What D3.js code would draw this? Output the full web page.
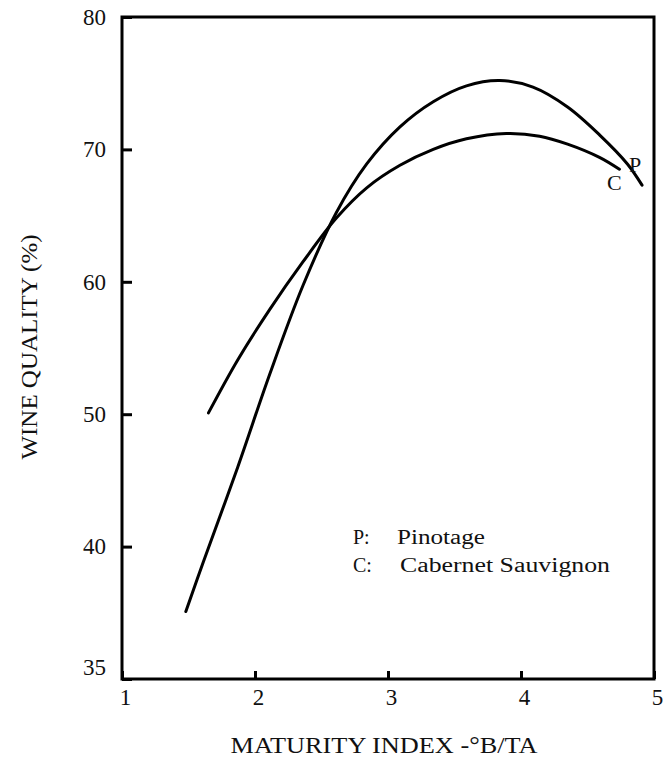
<!DOCTYPE html>
<html>
<head>
<meta charset="utf-8">
<script src="https://cdn.jsdelivr.net/npm/d3@7"></script>
<style>
  body { margin: 0; background: #fff; }
  svg { display: block; font-family: 'Liberation Serif', 'DejaVu Serif', serif; }
</style>
</head>
<body>
<svg id="chart" width="668" height="758"></svg>
<script>
// curves
const pinotageX = [1.48, 1.61, 1.87, 2.11, 2.36, 2.61, 2.84, 3.09, 3.34, 3.59, 3.84, 4.09, 4.35, 4.59, 4.80, 4.91];
const pinotageY = [35.1, 38.8, 46.0, 53.0, 59.7, 65.2, 68.9, 71.7, 73.6, 74.8, 75.2, 74.7, 73.2, 71.1, 68.9, 67.3];

const cabernetX = [1.65, 1.87, 2.11, 2.36, 2.61, 2.84, 3.09, 3.34, 3.59, 3.89, 4.14, 4.35, 4.59, 4.74];
const cabernetY = [50.1, 54.1, 57.9, 61.5, 64.8, 67.1, 68.8, 70.0, 70.8, 71.2, 71.0, 70.4, 69.4, 68.5];

const xTicks = [1, 2, 3, 4, 5];
const yTicks = [30, 40, 50, 60, 70, 80];
// the bottom of the printed axis carries the label 35
const yTickLabels = ['35', '40', '50', '60', '70', '80'];

const legendKeys = ['P:', 'C:'];
const legendNames = ['Pinotage', 'Cabernet Sauvignon'];
const curveLetters = ['P', 'C'];

const svg = d3.select('#chart');
const serif = '"Liberation Serif", "DejaVu Serif", serif';

const margin = { top: 17, right: 14, bottom: 79, left: 122 };
const width = +svg.attr('width') - margin.left - margin.right;
const height = +svg.attr('height') - margin.top - margin.bottom;

const x = d3.scaleLinear().domain([1, 5]).range([margin.left, margin.left + width]);
const y = d3.scaleLinear().domain([30, 80]).range([margin.top + height, margin.top]);

// axes, ticks pointing inward
const xAxis = d3.axisBottom(x).tickValues(xTicks).tickSize(-8).tickPadding(10).tickFormat(d3.format('d'));
const yAxis = d3.axisLeft(y).tickValues(yTicks).tickSize(-10).tickPadding(16)
  .tickFormat((d, i) => yTickLabels[i]);

const gx = svg.append('g')
  .attr('transform', `translate(0, ${margin.top + height})`)
  .call(xAxis);
const gy = svg.append('g')
  .attr('transform', `translate(${margin.left}, 0)`)
  .call(yAxis);

[gx, gy].forEach((g) => {
  g.attr('font-family', null).attr('font-size', null);
  g.select('.domain').remove();
  g.selectAll('.tick line').attr('stroke', '#000').attr('stroke-width', 3);
  g.selectAll('.tick text')
    .attr('fill', '#111')
    .style('font-family', serif)
    .style('font-size', '23px');
});
gx.selectAll('.tick text').attr('dx', 3);
gy.selectAll('.tick text').filter((d) => d === 30).attr('dy', '-0.2em');

// frame
svg.append('rect')
  .attr('x', margin.left)
  .attr('y', margin.top)
  .attr('width', width)
  .attr('height', height)
  .attr('fill', 'none')
  .attr('stroke', '#000')
  .attr('stroke-width', 3);

const line = d3.line()
  .x((d) => x(d[0]))
  .y((d) => y(d[1]))
  .curve(d3.curveCatmullRom.alpha(0.5));

const series = [
  d3.zip(pinotageX, pinotageY),
  d3.zip(cabernetX, cabernetY),
];

svg.selectAll('.curve')
  .data(series)
  .enter()
  .append('path')
  .attr('class', 'curve')
  .attr('d', line)
  .attr('fill', 'none')
  .attr('stroke', '#000')
  .attr('stroke-width', 3)
  .attr('stroke-linecap', 'round');

// letters at the right ends of the curves
const letterOffsets = [[-7, -13], [-5, 21]];
svg.selectAll('.curve-label')
  .data(series)
  .enter()
  .append('text')
  .attr('class', 'curve-label')
  .attr('x', (d, i) => x(d[d.length - 1][0]) + letterOffsets[i][0])
  .attr('y', (d, i) => y(d[d.length - 1][1]) + letterOffsets[i][1])
  .attr('text-anchor', 'middle')
  .attr('fill', '#111')
  .style('font-size', '22px')
  .text((d, i) => curveLetters[i]);

// legend
const legend = svg.append('g').style('font-size', '20px').attr('fill', '#111');
const nameLengths = [88, 210];
const nameStarts = [397, 400];
legendKeys.forEach((k, i) => {
  legend.append('text').attr('x', 353).attr('y', 544 + i * 28).text(k);
  legend.append('text')
    .attr('x', nameStarts[i])
    .attr('y', 544 + i * 28)
    .attr('textLength', nameLengths[i])
    .attr('lengthAdjust', 'spacingAndGlyphs')
    .text(legendNames[i]);
});

// axis titles
svg.append('text')
  .attr('x', 384)
  .attr('y', 753)
  .attr('text-anchor', 'middle')
  .attr('fill', '#111')
  .attr('textLength', 307)
  .attr('lengthAdjust', 'spacingAndGlyphs')
  .style('font-size', '24px')
  .text('MATURITY INDEX -°B/TA');

svg.append('text')
  .attr('transform', 'translate(37, 347) rotate(-90)')
  .attr('text-anchor', 'middle')
  .attr('fill', '#111')
  .attr('textLength', 225)
  .attr('lengthAdjust', 'spacingAndGlyphs')
  .style('font-size', '24px')
  .text('WINE QUALITY (%)');
</script>
</body>
</html>
